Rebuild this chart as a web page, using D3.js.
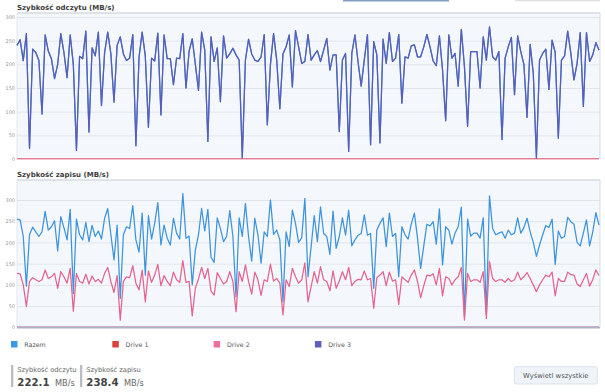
<!DOCTYPE html>
<html>
<head>
<meta charset="utf-8">
<script src="https://cdn.jsdelivr.net/npm/d3@7"></script>
<style>
  html, body { margin: 0; padding: 0; background: #fff; }
  svg { display: block; font-family: "DejaVu Sans", Verdana, sans-serif; }
</style>
</head>
<body>
<svg id="chart" width="605" height="392"></svg>
<script>
// ---------- DATA ----------
const yTicks = [0, 50, 100, 150, 200, 250, 300];
const seriesNames = ["Razem", "Drive 1", "Drive 2", "Drive 3"];
const seriesColors = ["#3d93dc", "#d8433c", "#e4638f", "#5a5db8"];
const legendColors = ["#3a9ae6", "#d8433c", "#ef6f98", "#5f5fbd"];

// read speed of Drive 3 (MB/s)
const drive3Read = [
  240,252,208,265,22,232,225,208,95,262,228,212,170,200,265,225,172,262,200,18,217,212,270,57,235,218,268,113,225,268,222,120,240,258,222,208,213,263,28,215,268,218,67,213,207,266,93,262,212,212,157,213,212,265,150,228,254,200,145,268,230,
  37,258,206,235,121,260,213,222,234,220,209,2,209,253,222,209,206,215,263,72,200,265,209,106,222,237,262,152,271,237,202,206,263,209,220,229,206,230,255,188,220,220,58,209,223,16,223,262,205,154,210,263,30,248,220,34,253,202,267,206,213,263,118,
  216,213,239,241,216,216,237,263,237,207,197,260,188,81,262,213,223,154,274,195,69,227,227,227,150,258,209,279,216,209,227,41,213,237,257,136,260,227,200,88,242,181,2,209,223,232,147,251,225,44,209,218,270,223,167,202,267,111,267,206,220,246,230
];
// total read equals Drive 3 read (Drive 1 and 2 read nothing)
const razemRead = drive3Read.slice();
const drive1Read = drive3Read.map(() => 0);
const drive2Read = drive3Read.map(() => 0);

// write speed (MB/s)
const razemWrite = [
  255,253,214,97,218,236,225,214,225,273,229,237,251,180,261,235,206,278,80,255,218,206,247,202,240,214,227,208,257,280,218,159,241,68,218,237,233,287,206,177,269,123,263,208,245,294,194,241,210,194,257,222,208,315,210,215,100,182,218,280,227,
  278,165,153,258,233,202,214,275,214,72,258,214,292,214,156,257,218,151,225,214,300,219,229,206,60,225,190,276,245,200,211,304,119,190,263,202,284,221,214,172,274,186,214,258,217,276,192,206,217,221,265,217,221,92,229,245,258,190,269,214,221,119,237,
  218,208,243,269,210,139,192,243,239,249,196,279,147,237,229,196,222,237,283,25,255,215,222,222,210,258,30,310,233,218,222,225,210,229,218,222,258,222,235,257,225,200,167,194,218,240,235,255,148,227,210,214,259,249,243,200,192,222,253,192,225,270,241
];
const drive2Write = [
  127,126,100,49,108,117,112,108,112,135,115,119,127,92,131,119,104,139,38,127,108,104,125,102,121,108,113,104,127,141,108,82,122,17,108,119,117,145,104,88,135,60,133,106,123,148,98,122,108,98,130,112,106,157,106,108,27,92,114,141,115,
  139,86,76,129,115,102,108,131,108,37,131,108,147,108,78,130,112,75,112,108,149,109,115,104,29,112,96,139,119,104,112,152,60,96,131,104,143,112,108,86,133,92,109,131,112,141,98,108,113,112,133,112,115,45,117,123,131,98,130,109,112,54,119,
  112,106,123,135,108,70,98,123,121,126,100,139,74,119,115,100,112,119,141,17,127,108,112,112,106,131,21,155,115,108,112,112,106,115,108,112,130,112,119,129,115,100,84,100,112,123,119,130,74,115,108,108,130,124,123,102,96,112,127,97,112,135,122
];
const drive1Write = razemWrite.map(() => 0);
const drive3Write = razemWrite.map(() => 0);

const readSeries = [razemRead, drive1Read, drive2Read, drive3Read];
const writeSeries = [razemWrite, drive1Write, drive2Write, drive3Write];

const titles = ["Szybkość odczytu (MB/s)", "Szybkość zapisu (MB/s)"];
const statLabels = ["Szybkość odczytu", "Szybkość zapisu"];
const statValues = ["222.1", "238.4"];
const statUnit = "MB/s";
const buttonLabel = "Wyświetl wszystkie";

// ---------- DRAW ----------
const svg = d3.select("#chart");
const plotL = 17, plotR = 600;
const n = drive3Read.length;
const x = d3.scaleLinear().domain([0, n - 1]).range([plotL, 599]);

// small UI strips at the very top
svg.append("rect").attr("x", 343).attr("y", 0).attr("width", 106).attr("height", 1.5).attr("fill", "#7f9fbf");
svg.append("rect").attr("x", 515).attr("y", 0).attr("width", 85).attr("height", 1.2).attr("fill", "#dedede");

const defs = svg.append("defs");

function drawPanel(cfg, idx) {
  const g = svg.append("g");
  const y = d3.scaleLinear().domain([0, 300]).range([cfg.y0, cfg.y300]);

  defs.append("clipPath").attr("id", "clip" + idx)
    .append("rect").attr("x", plotL - 2).attr("y", cfg.top)
    .attr("width", plotR - plotL + 4).attr("height", cfg.y0 - cfg.top + 0.3);

  g.append("text").attr("x", 17).attr("y", cfg.titleY)
    .attr("font-size", 7).attr("font-weight", "bold").attr("fill", "#3c3c3c")
    .text(cfg.title);

  g.append("rect").attr("x", plotL).attr("y", cfg.top)
    .attr("width", plotR - plotL).attr("height", cfg.y0 - cfg.top)
    .attr("fill", "#f4f8fc");

  // grid
  const grid = g.append("g").attr("transform", `translate(${plotL},0)`)
    .call(d3.axisLeft(y).tickValues(yTicks.filter(v => v > 0)).tickSize(-(plotR - plotL)).tickFormat(""));
  grid.select(".domain").remove();
  grid.selectAll(".tick line").attr("stroke", "#e1e5eb").attr("stroke-width", 1);

  // borders
  g.append("line").attr("x1", plotL).attr("x2", plotR).attr("y1", cfg.top).attr("y2", cfg.top)
    .attr("stroke", "#d6dbe3").attr("stroke-width", 1.5);
  g.append("line").attr("x1", plotL).attr("x2", plotL).attr("y1", cfg.top).attr("y2", cfg.y0)
    .attr("stroke", "#e3e7ed").attr("stroke-width", 1);
  g.append("line").attr("x1", plotR).attr("x2", plotR).attr("y1", cfg.top).attr("y2", cfg.y0)
    .attr("stroke", "#d6dbe3").attr("stroke-width", 1);

  // y labels
  const ax = g.append("g").attr("transform", `translate(${plotL - 2},0)`)
    .call(d3.axisLeft(y).tickValues(yTicks).tickSize(0).tickPadding(0));
  ax.select(".domain").remove();
  ax.selectAll("text").attr("font-size", 5).attr("fill", "#9a9a9a")
    .attr("font-family", "DejaVu Sans, sans-serif");

  const lines = g.append("g").attr("clip-path", `url(#clip${idx})`);
  const line = d3.line().x((d, i) => x(i)).y(d => y(d)).curve(d3.curveLinear);
  cfg.series.forEach((s, k) => {
    lines.append("path").datum(s).attr("d", line)
      .attr("fill", "none").attr("stroke", seriesColors[k])
      .attr("stroke-width", 1.25).attr("stroke-linejoin", "round");
  });

  if (cfg.bottomBorder) {
    g.append("line").attr("x1", plotL).attr("x2", plotR).attr("y1", cfg.y0 + 0.5).attr("y2", cfg.y0 + 0.5)
      .attr("stroke", "#aeb1cc").attr("stroke-width", 1.6);
  }
}

drawPanel({ title: titles[0], titleY: 9.8, top: 13, y0: 159, y300: 17, series: readSeries }, 0);
drawPanel({ title: titles[1], titleY: 177.3, top: 180, y0: 327.3, y300: 200, series: writeSeries, bottomBorder: true }, 1);

// legend
const lg = svg.append("g");
seriesNames.forEach((name, i) => {
  const lx = 11 + i * 101.3;
  lg.append("rect").attr("x", lx).attr("y", 341).attr("width", 6.5).attr("height", 6.5).attr("fill", legendColors[i]);
  lg.append("text").attr("x", lx + 13.3).attr("y", 346.8).attr("font-size", 6.3).attr("fill", "#555").text(name);
});

// stats
const statX = [11, 80];
statLabels.forEach((lab, i) => {
  const sx = statX[i];
  svg.append("rect").attr("x", sx).attr("y", 365).attr("width", 2.3).attr("height", 22).attr("fill", "#b9bdc3");
  svg.append("text").attr("x", sx + 6.3).attr("y", 371.6).attr("font-size", 6.7).attr("fill", "#666").text(lab);
  const v = svg.append("text").attr("x", sx + 6.3).attr("y", 385.5).attr("font-size", 10.2)
    .attr("font-weight", "bold").attr("fill", "#444").text(statValues[i]);
  const w = v.node().getComputedTextLength();
  svg.append("text").attr("x", sx + 6.3 + w + 5.5).attr("y", 385.5).attr("font-size", 8.2)
    .attr("fill", "#666").text(statUnit);
});

// button
svg.append("rect").attr("x", 514.3).attr("y", 366.7).attr("width", 83).attr("height", 17.3).attr("rx", 2)
  .attr("fill", "#eef4f9").attr("stroke", "#d3dae2").attr("stroke-width", 0.8);
svg.append("text").attr("x", 555.8).attr("y", 377.9).attr("text-anchor", "middle")
  .attr("font-size", 6.8).attr("fill", "#555").text(buttonLabel);
</script>
</body>
</html>
